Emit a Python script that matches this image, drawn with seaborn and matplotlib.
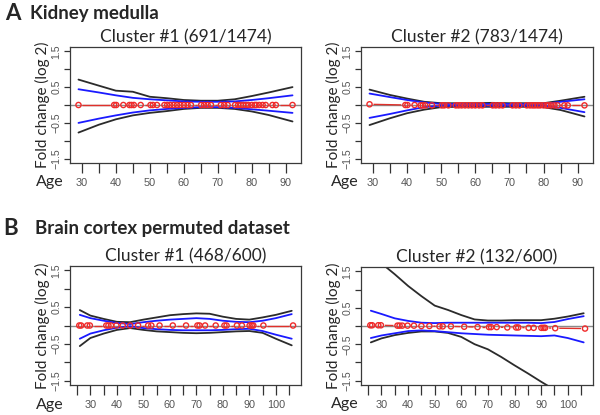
import matplotlib
matplotlib.use("Agg")
import matplotlib.pyplot as plt
import seaborn as sns
import pandas as pd

# ages of the samples (red circles)
kidney_ages = [29, 39.5, 40.1, 42.2, 44, 44.6, 45.3, 47.3, 50.2, 50.9, 52.1, 54.3, 55.1, 56,
               57, 58, 59, 60, 61.1, 62.1, 65.1, 66, 67, 68, 70.9, 71.9, 72.9, 75.1, 76,
               76.8, 77.5, 78.3, 79, 80, 80.9, 81.4, 82.2, 83.2, 84.1, 86.1, 87.1, 92]
brain_ages = [25.8, 26.5, 28.8, 29.8, 36, 36.8, 37.8, 39.8, 42.2, 45, 48, 51.8, 53, 56.1,
              61.1, 66.1, 70.4, 71.2, 73.3, 77.3, 80.6, 81.4, 85.3, 87.2, 90.1, 90.9,
              91.5, 95.3, 106.5]

# cluster mean per sample
kidney_c1_mean = [0.0, 0.0, 0.0, 0.0, 0.0, 0.0, 0.0, 0.0, 0.0, 0.0, 0.0, 0.0, 0.0, 0.0,
                  0.0, 0.0, 0.0, 0.0, 0.0, 0.0, 0.0, 0.0, 0.0, 0.0, 0.0, 0.0, 0.0, 0.0,
                  0.0, 0.0, 0.0, 0.0, 0.0, 0.0, 0.0, 0.0, 0.0, 0.0, 0.0, 0.0, 0.0, 0.0]
kidney_c2_mean = [0.02, 0.0, 0.0, 0.0, -0.01, -0.01, -0.01, -0.01, -0.01, -0.01, -0.01,
                  -0.01, -0.01, -0.01, -0.01, -0.01, -0.01, -0.01, -0.01, -0.01, -0.01,
                  -0.01, -0.01, -0.01, -0.01, -0.01, -0.01, -0.01, -0.01, -0.01, -0.01,
                  -0.01, -0.01, -0.01, -0.01, -0.01, -0.01, -0.01, -0.01, -0.01, -0.01, -0.01]
brain_c1_mean = [0.0, 0.0, 0.0, 0.0, 0.0, 0.0, 0.0, 0.0, 0.0, 0.0, 0.0, 0.0, 0.0, 0.0,
                 0.0, 0.0, 0.0, 0.0, 0.0, 0.0, 0.0, 0.0, 0.0, 0.0, 0.0, 0.0, 0.0, 0.0, 0.0]
brain_c2_mean = [0.02, 0.02, 0.02, 0.02, 0.01, 0.01, 0.01, 0.01, 0.01, 0.0, 0.0, -0.01,
                 -0.01, -0.01, -0.02, -0.03, -0.03, -0.03, -0.03, -0.04, -0.04, -0.04,
                 -0.05, -0.05, -0.05, -0.05, -0.05, -0.06, -0.07]

# envelope curves
kidney_grid = [29, 35, 40, 45, 50, 55, 60, 65, 70, 75, 80, 85, 92]
kidney_c1_outer_hi = [0.71, 0.54, 0.40, 0.37, 0.23, 0.19, 0.14, 0.12, 0.12, 0.16, 0.25, 0.35, 0.50]
kidney_c1_outer_lo = [-0.77, -0.55, -0.40, -0.29, -0.22, -0.17, -0.11, -0.08, -0.08, -0.11, -0.18, -0.28, -0.46]
kidney_c1_inner_hi = [0.44, 0.35, 0.27, 0.20, 0.16, 0.13, 0.10, 0.09, 0.09, 0.10, 0.14, 0.19, 0.27]
kidney_c1_inner_lo = [-0.50, -0.38, -0.29, -0.21, -0.15, -0.11, -0.08, -0.06, -0.06, -0.08, -0.12, -0.16, -0.22]
kidney_c2_outer_hi = [0.43, 0.28, 0.18, 0.09, 0.05, 0.05, 0.05, 0.06, 0.05, 0.05, 0.05, 0.12, 0.23]
kidney_c2_outer_lo = [-0.56, -0.37, -0.23, -0.13, -0.06, -0.05, -0.05, -0.05, -0.05, -0.05, -0.06, -0.14, -0.32]
kidney_c2_inner_hi = [0.32, 0.22, 0.14, 0.07, 0.03, 0.03, 0.03, 0.03, 0.03, 0.03, 0.03, 0.09, 0.16]
kidney_c2_inner_lo = [-0.36, -0.25, -0.15, -0.06, -0.02, -0.02, -0.02, -0.02, -0.02, -0.02, -0.02, -0.08, -0.20]

brain_grid = [26, 30, 35, 40, 45, 50, 55, 60, 65, 70, 75, 80, 85, 90, 95, 100, 106]
brain_c1_outer_hi = [0.42, 0.27, 0.18, 0.10, 0.09, 0.16, 0.22, 0.28, 0.31, 0.33, 0.32, 0.24, 0.18, 0.16, 0.22, 0.29, 0.40]
brain_c1_outer_lo = [-0.56, -0.34, -0.22, -0.12, -0.07, -0.12, -0.16, -0.18, -0.20, -0.21, -0.20, -0.18, -0.16, -0.15, -0.20, -0.36, -0.54]
brain_c1_inner_hi = [0.29, 0.20, 0.13, 0.07, 0.04, 0.09, 0.13, 0.16, 0.18, 0.20, 0.18, 0.13, 0.10, 0.09, 0.13, 0.20, 0.31]
brain_c1_inner_lo = [-0.36, -0.22, -0.13, -0.06, -0.02, -0.07, -0.10, -0.12, -0.13, -0.13, -0.13, -0.12, -0.10, -0.09, -0.15, -0.25, -0.36]
brain_c2_outer_hi = [1.98, 1.72, 1.42, 1.10, 0.82, 0.56, 0.44, 0.30, 0.18, 0.15, 0.15, 0.16, 0.16, 0.16, 0.20, 0.26, 0.35]
brain_c2_outer_lo = [-0.45, -0.34, -0.25, -0.19, -0.15, -0.15, -0.19, -0.30, -0.50, -0.64, -0.85, -1.08, -1.30, -1.53, -1.75, -1.97, -2.20]
brain_c2_inner_hi = [0.42, 0.33, 0.21, 0.14, 0.09, 0.08, 0.09, 0.09, 0.09, 0.09, 0.09, 0.09, 0.09, 0.08, 0.11, 0.19, 0.27]
brain_c2_inner_lo = [-0.33, -0.26, -0.20, -0.14, -0.12, -0.14, -0.17, -0.20, -0.22, -0.24, -0.25, -0.26, -0.27, -0.28, -0.26, -0.33, -0.45]

panel_titles = ["Cluster #1 (691/1474)", "Cluster #2 (783/1474)",
                "Cluster #1 (468/600)", "Cluster #2 (132/600)"]
section_titles = ["Kidney medulla", "Brain cortex permuted dataset"]
kidney_xticks = [30, 35, 40, 45, 50, 55, 60, 65, 70, 75, 80, 85, 90]
brain_xticks = [25, 30, 35, 40, 45, 50, 55, 60, 65, 70, 75, 80, 85, 90, 95, 100, 105]
yticks = [-1.5, -1.0, -0.5, 0.0, 0.5, 1.0, 1.5]
ytick_labels = ["\u22121.5", "", "\u22120.5", "", "0.5", "", "1.5"]

sns.set_style("white")
plt.rcParams["font.family"] = ["Lato", "DejaVu Sans"]

W, H = 600, 415
fig = plt.figure(figsize=(W / 100, H / 100), dpi=100)
fig.patch.set_facecolor("white")


def box(x0, y0, x1, y1):
    return [x0 / W, 1 - y1 / H, (x1 - x0) / W, (y1 - y0) / H]


def gapped_line(ax, xs, ys, gap_px=4.0):
    # R type="b": line segments stop short of each point
    fig.canvas.draw()
    tr = ax.transData
    inv = tr.inverted()
    pts = tr.transform(list(zip(xs, ys)))
    for (ax0, ay0), (ax1, ay1) in zip(pts[:-1], pts[1:]):
        dx, dy = ax1 - ax0, ay1 - ay0
        L = (dx ** 2 + dy ** 2) ** 0.5
        if L <= 2 * gap_px + 0.5:
            continue
        ux, uy = dx / L, dy / L
        a = inv.transform((ax0 + ux * gap_px, ay0 + uy * gap_px))
        b = inv.transform((ax1 - ux * gap_px, ay1 - uy * gap_px))
        ax.plot([a[0], b[0]], [a[1], b[1]], color="#e0302a", lw=1.0, zorder=3,
                solid_capstyle="butt")


def panel(rect, title, ages, means, grid, outer_hi, outer_lo, inner_hi, inner_lo,
          xticks, xlim, age_x):
    ax = fig.add_axes(rect)
    ax.set_xlim(*xlim)
    ax.set_ylim(-1.62, 1.62)
    ax.axhline(0, color="#8a8a8a", lw=1.0, zorder=1)

    curves = pd.DataFrame({"age": grid, "outer_hi": outer_hi, "outer_lo": outer_lo,
                           "inner_hi": inner_hi, "inner_lo": inner_lo})
    for col, colr in [("outer_hi", "#2b2b2b"), ("outer_lo", "#2b2b2b"),
                      ("inner_hi", "#1a1aff"), ("inner_lo", "#1a1aff")]:
        sns.lineplot(data=curves, x="age", y=col, ax=ax, color=colr, lw=1.3,
                     estimator=None, sort=False, zorder=2)

    pts = pd.DataFrame({"age": ages, "mean": means})
    sns.scatterplot(data=pts, x="age", y="mean", ax=ax, marker="o", s=14,
                    facecolor="none", edgecolor="#f02a2a", linewidth=1.0, zorder=4)
    gapped_line(ax, ages, means)

    ax.set_xlabel("")
    ax.set_ylabel("Fold change (log 2)", fontsize=11, labelpad=1)
    ax.set_title(title, fontsize=12.5, pad=3)

    ax.set_yticks(yticks)
    ax.set_yticklabels(ytick_labels, rotation=90, va="center",
                       family="Liberation Sans", fontsize=7.6, color="#555555")
    ax.set_xticks(xticks)
    ax.set_xticklabels([str(t) if t % 10 == 0 else "" for t in xticks],
                       family="Liberation Sans", fontsize=7.8, color="#555555")
    ax.tick_params(axis="y", length=4, width=0.9, color="#333333", pad=2, left=True)
    ax.tick_params(axis="x", length=7, width=0.9, color="#333333", pad=4, bottom=True)
    for s in ax.spines.values():
        s.set_color("#3a3a3a")
        s.set_linewidth(0.9)
    ax.text(age_x, -0.165, "Age", transform=ax.transAxes, fontsize=11.5,
            ha="center", va="center")
    return ax


kid_lim = (26.5, 94.5)
brain_lim = (22.3, 109.5)

panel(box(70, 47, 301, 163), panel_titles[0], kidney_ages, kidney_c1_mean, kidney_grid,
      kidney_c1_outer_hi, kidney_c1_outer_lo, kidney_c1_inner_hi, kidney_c1_inner_lo,
      kidney_xticks, kid_lim, -0.087)
panel(box(361, 47, 593, 163), panel_titles[1], kidney_ages, kidney_c2_mean, kidney_grid,
      kidney_c2_outer_hi, kidney_c2_outer_lo, kidney_c2_inner_hi, kidney_c2_inner_lo,
      kidney_xticks, kid_lim, -0.07)
panel(box(70, 266, 301, 385), panel_titles[2], brain_ages, brain_c1_mean, brain_grid,
      brain_c1_outer_hi, brain_c1_outer_lo, brain_c1_inner_hi, brain_c1_inner_lo,
      brain_xticks, brain_lim, -0.087)
panel(box(361, 267, 593, 385), panel_titles[3], brain_ages, brain_c2_mean, brain_grid,
      brain_c2_outer_hi, brain_c2_outer_lo, brain_c2_inner_hi, brain_c2_inner_lo,
      brain_xticks, brain_lim, -0.07)

fig.text(5 / W, 1 - 13 / H, "A", fontsize=16, fontweight="bold", va="center")
fig.text(30 / W, 1 - 13 / H, section_titles[0], fontsize=13.5, fontweight="bold", va="center")
fig.text(3 / W, 1 - 228 / H, "B", fontsize=16, fontweight="bold", va="center")
fig.text(35 / W, 1 - 228 / H, section_titles[1], fontsize=13.5, fontweight="bold", va="center")

fig.savefig("out.png", dpi=100, facecolor="white")
